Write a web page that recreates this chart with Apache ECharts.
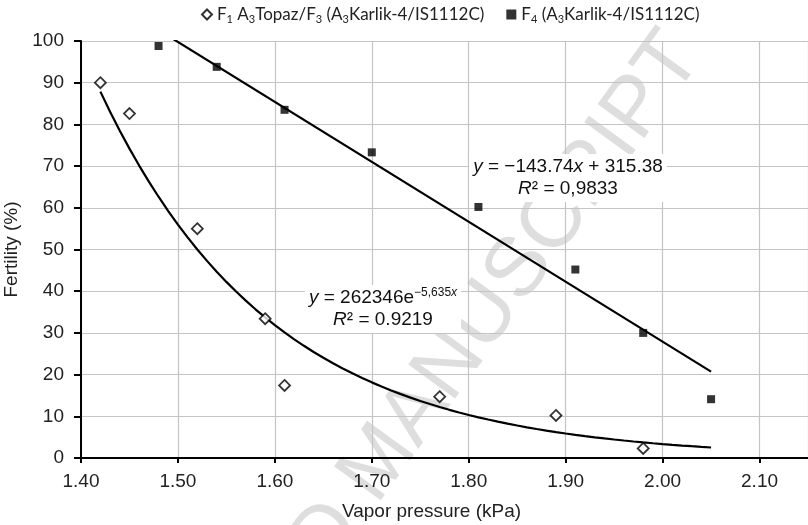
<!DOCTYPE html>
<html>
<head>
<meta charset="utf-8">
<script src="https://cdn.jsdelivr.net/npm/echarts@6/dist/echarts.min.js"></script>
<style>
  html, body { margin: 0; padding: 0; background: #fff; }
  #main { width: 808px; height: 525px; }
</style>
</head>
<body>
<div id="main"></div>
<script>
// 实测数据 (蒸气压 kPa, 育性 %)
var f1X = [1.42, 1.45, 1.52, 1.59, 1.61, 1.77, 1.89, 1.98];
var f1Y = [90, 82.6, 55, 33.4, 17.4, 14.7, 10.2, 2.3];
var f4X = [1.48, 1.54, 1.61, 1.70, 1.81, 1.91, 1.98, 2.05];
var f4Y = [98.8, 93.8, 83.5, 73.3, 60.2, 45.2, 30.0, 14.1];

// 趋势线 (图中给出的方程)
var linSlope = -143.74, linIntercept = 315.38;
var expA = 262346, expB = -5.635;
var trendFrom1 = 1.42, trendFrom4 = 1.48, trendTo = 2.05;

function pairs(xs, ys) {
  return xs.map(function (x, i) { return [x, ys[i]]; });
}
var linLine = [trendFrom4, trendTo].map(function (x) {
  return [x, linSlope * x + linIntercept];
});
var expLine = [];
for (var k = Math.round(trendFrom1 * 100); k <= Math.round(trendTo * 100); k++) {
  var xv = k / 100;
  expLine.push([xv, expA * Math.exp(expB * xv)]);
}

var font = 'Liberation Sans';
var myChart = echarts.init(document.getElementById('main'));
myChart.setOption({
  animation: false,
  backgroundColor: '#fff',
  grid: { left: 81, right: 0, top: 41, bottom: 67, containLabel: false, outerBoundsMode: 'none' },
  legend: {
    top: 1,
    left: 196,
    width: 600,
    itemWidth: 10,
    itemHeight: 10,
    itemGap: 22,
    data: [
      { name: 'F1', icon: 'diamond' },
      { name: 'F4', icon: 'rect' }
    ],
    formatter: function (name) {
      if (name === 'F1') {
        return '{n|F}{s|1}{n| A}{s|3}{n|Topaz/F}{s|3}{n| (A}{s|3}{n|Karlik-4/IS1112C)}';
      }
      return '{n|F}{s|4}{n| (A}{s|3}{n|Karlik-4/IS1112C)}';
    },
    textStyle: {
      rich: {
        n: { fontFamily: 'Lato', fontSize: 17, color: '#222', lineHeight: 20 },
        s: { fontFamily: 'Lato', fontSize: 11, color: '#222', verticalAlign: 'bottom', lineHeight: 20 }
      }
    }
  },
  xAxis: {
    type: 'value',
    min: 1.4,
    max: 2.15,
    interval: 0.1,
    name: 'Vapor pressure (kPa)',
    nameLocation: 'middle',
    nameGap: 44,
    nameTextStyle: { fontFamily: font, fontSize: 19, color: '#222', padding: [0, 26, 0, 0] },
    axisLine: { lineStyle: { color: '#000', width: 2 } },
    axisTick: { length: 5, lineStyle: { color: '#000', width: 2 } },
    axisLabel: {
      fontFamily: font, fontSize: 19, color: '#222', margin: 14,
      showMaxLabel: false,
      formatter: function (v) { return v.toFixed(2); }
    },
    splitLine: { show: true, lineStyle: { color: '#c4c4c4', width: 1.2 } }
  },
  yAxis: {
    type: 'value',
    min: 0,
    max: 100,
    interval: 10,
    name: 'Fertility (%)',
    nameLocation: 'middle',
    nameGap: 58,
    nameTextStyle: { fontFamily: font, fontSize: 19, color: '#222' },
    axisLine: { show: true, lineStyle: { color: '#000', width: 2 } },
    axisTick: { show: true, length: 7, lineStyle: { color: '#000', width: 2 } },
    axisLabel: { fontFamily: font, fontSize: 19, color: '#222', margin: 17 },
    splitLine: { show: true, lineStyle: { color: '#c4c4c4', width: 1.2 } }
  },
  graphic: [
    {
      type: 'text', x: 380, y: 462, rotation: 0.942, silent: true, z: -10,
      style: {
        text: 'ACCEPTED MANUSCRIPT', fontFamily: font, fontSize: 84,
        fill: '#dedede', textAlign: 'center', textVerticalAlign: 'middle'
      }
    },
    {
      type: 'text', x: 568, y: 154, z: 10, silent: true,
      style: {
        text: '{i|y} = \u2212143.74{i|x} + 315.38\n{i|R}\u00b2 = 0,9833',
        fontFamily: font, fontSize: 19, fill: '#111', lineHeight: 22,
        textAlign: 'center', backgroundColor: '#fff', padding: [2, 4, 2, 4],
        rich: { i: { fontFamily: font, fontSize: 19, fontStyle: 'italic', fill: '#111', lineHeight: 22 } }
      }
    },
    {
      type: 'text', x: 383, y: 285, z: 10, silent: true,
      style: {
        text: '{i|y} = 262346e{sup|\u22125,635}{supi|x}\n{i|R}\u00b2 = 0.9219',
        fontFamily: font, fontSize: 19, fill: '#111', lineHeight: 22,
        textAlign: 'center', backgroundColor: '#fff', padding: [2, 4, 2, 4],
        rich: {
          i: { fontFamily: font, fontSize: 19, fontStyle: 'italic', fill: '#111', lineHeight: 22 },
          sup: { fontFamily: font, fontSize: 12, fill: '#111', verticalAlign: 'top', lineHeight: 22 },
          supi: { fontFamily: font, fontSize: 12, fontStyle: 'italic', fill: '#111', verticalAlign: 'top', lineHeight: 22 }
        }
      }
    }
  ],
  series: [
    {
      name: 'F1 trend', type: 'line', data: expLine, showSymbol: false, silent: true,
      lineStyle: { color: '#000', width: 2.2 }, z: 3
    },
    {
      name: 'F4 trend', type: 'line', data: linLine, showSymbol: false, silent: true,
      lineStyle: { color: '#000', width: 2.2 }, z: 3
    },
    {
      name: 'F1', type: 'scatter', data: pairs(f1X, f1Y), symbol: 'diamond', symbolSize: 11,
      itemStyle: { color: '#fff', borderColor: '#000', borderWidth: 1.8 }, z: 5
    },
    {
      name: 'F4', type: 'scatter', data: pairs(f4X, f4Y), symbol: 'rect', symbolSize: 8,
      itemStyle: { color: '#000' }, z: 5
    }
  ]
});
</script>
</body>
</html>
